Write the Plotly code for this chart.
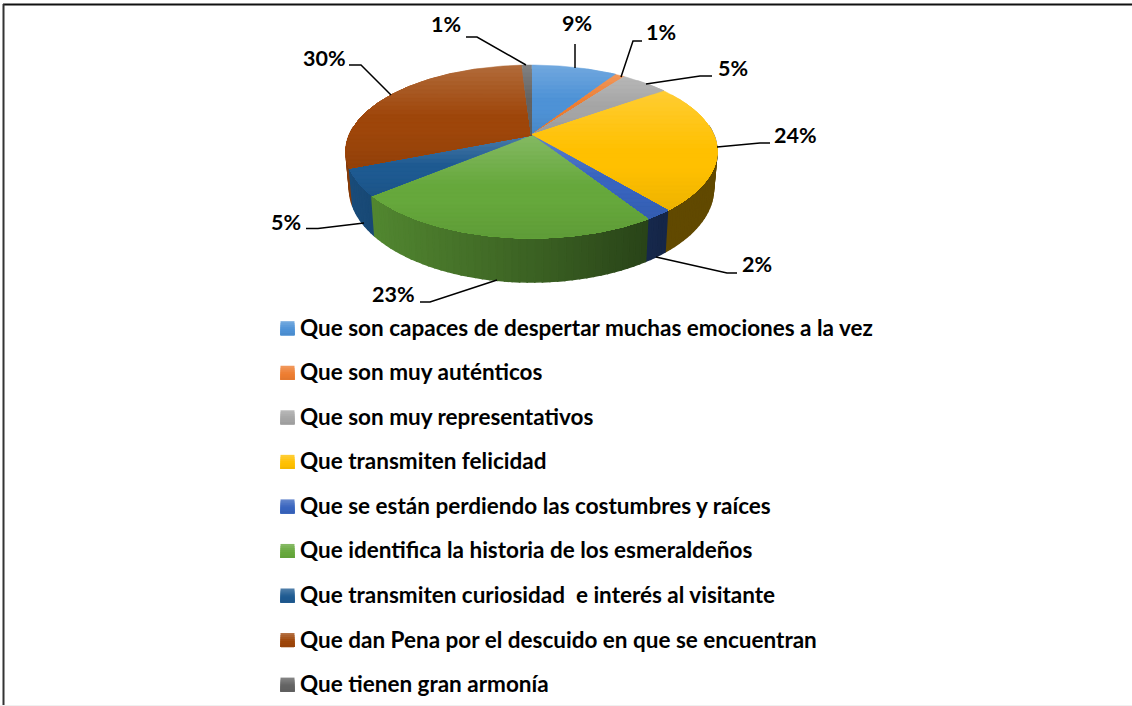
import numpy as np
import plotly.graph_objects as go

categories = [
    "Que son capaces de despertar muchas emociones a la vez",
    "Que son muy auténticos",
    "Que son muy representativos",
    "Que transmiten felicidad",
    "Que se están perdiendo las costumbres y raíces",
    "Que identifica la historia de los esmeraldeños",
    "Que transmiten curiosidad  e interés al visitante",
    "Que dan Pena por el descuido en que se encuentran",
    "Que tienen gran armonía",
]
values = [9, 1, 5, 24, 2, 23, 5, 30, 1]

colors = [(78, 146, 214), (237, 125, 49), (165, 165, 165), (255, 192, 0), (56, 100, 190),
          (102, 168, 60), (30, 90, 145), (158, 70, 10), (99, 99, 99)]

FONT = "Lato"
LABEL_SIZE = 21.5
LEGEND_SIZE = 22.5

# pie geometry (pixels)
CX, CY, RX, RY, T = 531.5, 151.5, 185.5, 86.5, 0.19
CY2, RX2, RY2 = 188.5, 182.0, 93.5
S = np.sqrt(1 - T * T)


def warp(theta):
    u = S * np.sin(theta) / (1 + T * np.cos(theta))
    v = (np.cos(theta) + T) / (1 + T * np.cos(theta))
    return u, v


def clip_band(pts, y0, y1):
    def clip(poly, keep, cross):
        out = []
        for i in range(len(poly)):
            a, b = poly[i], poly[(i + 1) % len(poly)]
            if keep(a):
                out.append(a)
            if keep(a) != keep(b):
                out.append(cross(a, b))
        return out

    def at(yv):
        return lambda a, b: (a[0] + (b[0] - a[0]) * (yv - a[1]) / (b[1] - a[1]), yv)

    poly = clip(pts, lambda p: p[1] >= y0, at(y0))
    if poly:
        poly = clip(poly, lambda p: p[1] <= y1, at(y1))
    return poly


def rgb(c):
    return "rgb(%d,%d,%d)" % tuple(int(round(max(0, min(255, x)))) for x in c)


def shade_top(c, t):
    white = float(np.interp(t, [0, 0.5, 1], [0.2, 0, 0]))
    dark = float(np.interp(t, [0, 0.65, 1], [1, 1, 0.93]))
    return rgb([(x + (255 - x) * white) * dark for x in c])


def shade_side(c, u):
    f = float(np.interp(u, [-1, -0.85, 0, 0.7, 1], [0.85, 0.8, 0.58, 0.38, 0.38]))
    return rgb([x * f for x in c])


fig = go.Figure()


def poly_trace(pts, color, lw=0.0):
    xs = [p[0] for p in pts] + [pts[0][0]]
    ys = [p[1] for p in pts] + [pts[0][1]]
    fig.add_trace(go.Scatter(x=xs, y=ys, mode="lines", fill="toself", fillcolor=color,
                             line=dict(color=color, width=lw), hoverinfo="skip", showlegend=False))


edges = np.cumsum([0] + values) / sum(values) * 2 * np.pi

# side wall, painted from the back of the pie to the front
quads = []
for i, c in enumerate(colors):
    n = max(2, int(np.degrees(edges[i + 1] - edges[i]) / 2) + 1)
    th = np.linspace(edges[i], edges[i + 1], n + 1)
    for a, b in zip(th[:-1], th[1:]):
        ua, va = warp(a)
        ub, vb = warp(b)
        vm = (va + vb) / 2
        if vm > 0.3:
            continue
        quads.append((vm, c, (ua + ub) / 2, [
            (CX + RX * ua, CY - RY * va), (CX + RX * ub, CY - RY * vb),
            (CX + RX2 * ub, CY2 - RY2 * vb), (CX + RX2 * ua, CY2 - RY2 * va)]))
quads.sort(key=lambda q: -q[0])
for _, c, um, pts in quads:
    poly_trace(pts, shade_side(c, um), lw=1.6)

# top face: vertical gradient per slice, each band overpainting the rest of the slice below it
apex_xy = (CX, CY - RY * T)
for i, c in enumerate(colors):
    th = np.linspace(edges[i], edges[i + 1], max(3, int(np.degrees(edges[i + 1] - edges[i]))))
    u, v = warp(th)
    pts = [apex_xy] + [(CX + RX * a, CY - RY * b) for a, b in zip(u, v)]
    ymin, ymax = min(p[1] for p in pts), max(p[1] for p in pts)
    nb = max(2, int((ymax - ymin) / 4))
    ed = np.linspace(ymin, ymax, nb + 1)
    for y0, y1 in zip(ed[:-1], ed[1:]):
        band = clip_band(pts, y0, ymax)
        if len(band) >= 3:
            poly_trace(band, shade_top(c, ((y0 + y1) / 2 - ymin) / (ymax - ymin)), lw=0.5)

# legend
LEG_X, LEG_Y0, LEG_STEP, SW = 280.5, 328.2, 44.55, 14
for i, (c, name) in enumerate(zip(colors, categories)):
    yc = LEG_Y0 + i * LEG_STEP
    for k in range(7):
        y0 = yc - SW / 2 + k * SW / 7
        y1 = yc + SW / 2
        poly_trace([(LEG_X, y0), (LEG_X + SW, y0), (LEG_X + SW, y1), (LEG_X, y1)], shade_top(c, k / 7))
    fig.add_annotation(x=298, y=yc - 1, text=name, showarrow=False, xanchor="left", yanchor="middle",
                       font=dict(family=FONT, size=LEGEND_SIZE, color="black", weight="bold"))

# data labels with leader lines
label_xy = [(577, 24), (661, 33), (733, 69), (795, 136), (757, 265), (393, 295), (286, 223), (324, 59), (446, 25)]
leaders = [
    [(575, 44), (575, 68)],
    [(621, 77), (633, 41), (642, 41)],
    [(646, 84), (700, 76), (712, 76)],
    [(717, 147), (760, 143), (770, 143)],
    [(656, 257), (727, 273), (737, 273)],
    [(497, 280), (430, 302), (420, 302)],
    [(364, 223), (318, 228.5), (306, 228.5)],
    [(391, 95), (361, 65), (349, 65)],
    [(526, 65), (477, 37), (466, 37)],
]
for v, (lx, ly), ld in zip(values, label_xy, leaders):
    fig.add_annotation(x=lx, y=ly - 1, text="%d%%" % v, showarrow=False,
                       font=dict(family=FONT, size=LABEL_SIZE, color="black", weight="bold"))
    fig.add_trace(go.Scatter(x=[p[0] for p in ld], y=[p[1] for p in ld], mode="lines",
                             line=dict(color="black", width=1.5), hoverinfo="skip", showlegend=False))

# outer frame
fig.add_shape(type="line", x0=3, x1=1132, y0=4.5, y1=4.5, line=dict(color="#111111", width=2))
fig.add_shape(type="line", x0=3.5, x1=3.5, y0=4, y1=706, line=dict(color="#333333", width=2))
fig.add_shape(type="line", x0=0, x1=1132, y0=705.5, y1=705.5, line=dict(color="#f0f0f0", width=1))

fig.update_layout(
    width=1132, height=706, margin=dict(l=0, r=0, t=0, b=0),
    paper_bgcolor="white", plot_bgcolor="white", showlegend=False,
    xaxis=dict(range=[0, 1132], visible=False, fixedrange=True),
    yaxis=dict(range=[706, 0], visible=False, fixedrange=True),
)
fig.write_html("out.html", config={"displayModeBar": False},
               post_script="document.body.style.margin='0';document.body.style.overflow='hidden';")
